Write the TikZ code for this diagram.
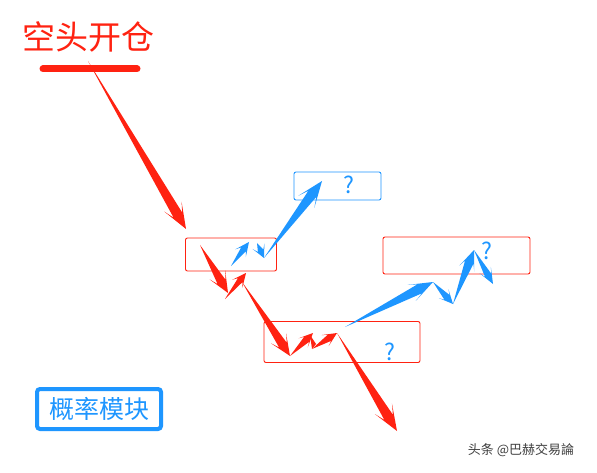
\documentclass[tikz,border=0pt]{standalone}
\usepackage{fontspec}
\newfontfamily\cjk{Noto Sans CJK SC}
\usepackage{xcolor}
\usetikzlibrary{calc,positioning}

\definecolor{shortred}{RGB}{255,34,17}
\definecolor{probblue}{RGB}{30,150,255}

% tapered arrow: colour, from, to, shaft half-width, join, head length, barb half-width
\newcommand{\spike}[7]{%
  \coordinate (sp-j) at ($(#3)!#5!(#2)$);
  \coordinate (sp-h) at ($(#3)!#6!(#2)$);
  \fill[#1] (#2) -- ($(sp-j)!#4!90:(#3)$) -- ($(sp-h)!#7!90:(#3)$) -- (#3)
    -- ($(sp-h)!#7!-90:(#3)$) -- ($(sp-j)!#4!-90:(#3)$) -- cycle;
}

\begin{document}
\begin{tikzpicture}[
    x=1pt, y=-1pt,
    redbox/.style={draw=shortred, rounded corners=2pt, line width=0.9pt},
    bluebox/.style={draw=probblue, rounded corners=2pt, line width=0.9pt},
    qmark/.style={text=probblue, font=\cjk\fontsize{23}{23}\selectfont, inner sep=0pt},
]
    \useasboundingbox[fill=white] (0,0) rectangle (597,473);

    % title and bar
    \node[text=shortred, font=\cjk\fontsize{33}{33}\selectfont, inner sep=0pt] (title) at (88,37) {空头开仓};
    \draw[shortred, line width=7pt, line cap=round] (43,69) coordinate (barl) -- (137,69) coordinate (barr);

    % zones
    \node[redbox, minimum width=91pt, minimum height=33pt] (zoneA) at (231,254.5) {};
    \node[bluebox, minimum width=87pt, minimum height=28pt] (zoneB) at (337.5,186) {};
    \node[redbox, minimum width=147pt, minimum height=37pt] (zoneC) at (456.5,255.5) {};
    \node[redbox, minimum width=156pt, minimum height=41pt] (zoneD) at (342,342) {};
    \node[qmark] (qB) at (349,185) {?};
    \node[qmark] (qC) at (487,251) {?};
    \node[qmark] (qD) at (390,352) {?};

    % probability module
    \node[draw=probblue, line width=4pt, rounded corners=3pt, minimum width=124pt, minimum height=40pt,
          text=probblue, font=\cjk\fontsize{25}{25}\selectfont] (prob) at (99,409) {概率模块};

    % watermark
    \node[text=black!75, font=\cjk\fontsize{13}{13}\selectfont, inner sep=0pt] (mark) at (521,450) {头条 @巴赫交易論};

    % red path
    \coordinate (r0) at (88,61);
    \coordinate (r1) at (186,229);
    \coordinate (r2) at (200,245);
    \coordinate (r3) at (228,293);
    \coordinate (r4) at (225,299);
    \coordinate (r5) at (246,273);
    \coordinate (r6) at (242,282);
    \coordinate (r7) at (290,356);
    \coordinate (r8) at (313,333);
    \coordinate (r10) at (312,349);
    \coordinate (r11) at (337,333);
    \coordinate (r12) at (397,431);
    \spike{shortred}{r0}{r1}{5pt}{16pt}{26pt}{10pt}
    \spike{shortred}{r2}{r3}{4.5pt}{13pt}{21pt}{9pt}
    \spike{shortred}{r4}{r5}{3pt}{9pt}{14pt}{6.5pt}
    \spike{shortred}{r6}{r7}{4.5pt}{13pt}{21pt}{9pt}
    \spike{shortred}{r7}{r8}{3.5pt}{9pt}{14pt}{6.5pt}
    \fill[shortred] ($(r8)+(-3,2)$) -- (r10) -- ($(r10)+(4,-5)$) -- cycle;
    \spike{shortred}{r10}{r11}{3.5pt}{9pt}{14pt}{6.5pt}
    \spike{shortred}{r11}{r12}{5pt}{16pt}{26pt}{10pt}

    % blue path
    \coordinate (b0) at (231,266);
    \coordinate (b1) at (249,242);
    \coordinate (b2) at (257,243);
    \coordinate (b3) at (264,258);
    \coordinate (b4) at (322,181);
    \coordinate (b5) at (345,327);
    \coordinate (b6) at (433,282);
    \coordinate (b7) at (453,304);
    \coordinate (b8) at (474,250);
    \coordinate (b9) at (493,284);
    \spike{probblue}{b0}{b1}{3pt}{9pt}{14pt}{6.5pt}
    \spike{probblue}{b2}{b3}{3pt}{8pt}{13pt}{6.5pt}
    \spike{probblue}{b3}{b4}{5pt}{16pt}{26pt}{10pt}
    \spike{probblue}{b5}{b6}{5pt}{15pt}{24pt}{9pt}
    \spike{probblue}{b6}{b7}{3.5pt}{9pt}{14pt}{6.5pt}
    \spike{probblue}{b7}{b8}{4.5pt}{13pt}{20pt}{8pt}
    \spike{probblue}{b8}{b9}{3.5pt}{10pt}{16pt}{6.5pt}
\end{tikzpicture}
\end{document}
